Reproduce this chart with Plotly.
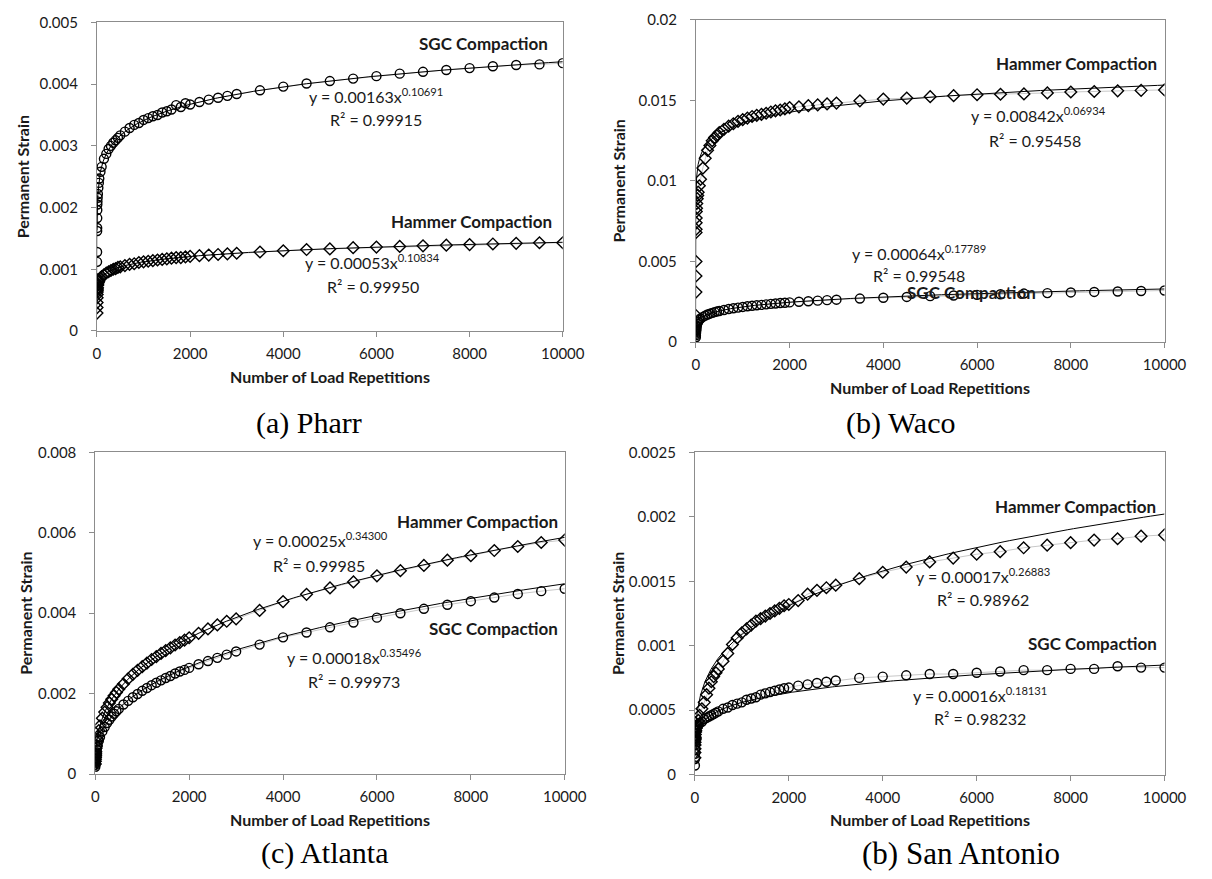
import numpy as np
import plotly.graph_objects as go

# Load repetitions at which permanent strain was recorded
load_reps = [1, 2, 3, 4, 5, 6, 7, 8, 10, 15, 20, 30, 40, 50, 75, 100,
             150, 200, 250, 300, 350, 400, 450, 500,
             600, 700, 800, 900, 1000, 1100, 1200, 1300, 1400, 1500, 1600, 1700, 1800, 1900, 2000,
             2200, 2400, 2600, 2800, 3000,
             3500, 4000, 4500, 5000, 5500, 6000, 6500, 7000, 7500, 8000, 8500, 9000, 9500, 10000]

# (a) Pharr
pharr_sgc = [0.00085, 0.00112, 0.00128, 0.00162, 0.00167, 0.00183, 0.00196, 0.00205, 0.00210, 0.00216,
             0.00222, 0.00232, 0.00240, 0.00247, 0.00258, 0.00266,
             0.00279, 0.00287, 0.00295, 0.00300, 0.00305, 0.00309, 0.00313, 0.00317,
             0.00323, 0.00329, 0.00334, 0.00337, 0.00342, 0.00345, 0.00348, 0.00350, 0.00354, 0.00356,
             0.00359, 0.00366, 0.00363, 0.00369, 0.00367,
             0.00371, 0.00375, 0.00378, 0.00381, 0.00384,
             0.00390, 0.00396, 0.00401, 0.00405, 0.00409, 0.00413, 0.00417, 0.00420, 0.00423, 0.00426,
             0.00429, 0.00431, 0.00432, 0.00434]
pharr_hammer = [0.00029, 0.00038, 0.00046, 0.00054, 0.00059, 0.00063, 0.00066, 0.00068, 0.00070, 0.00074,
                0.00076, 0.00079, 0.00081, 0.00083, 0.00086, 0.00088,
                0.00091, 0.00094, 0.00096, 0.00098, 0.00100, 0.00101, 0.00103, 0.00104,
                0.00106, 0.00108, 0.00109, 0.00111, 0.00112, 0.00113, 0.00114, 0.00115, 0.00116, 0.00117,
                0.00118, 0.00119, 0.00119, 0.00120, 0.00121,
                0.00122, 0.00123, 0.00124, 0.00125, 0.00126,
                0.00128, 0.00130, 0.00132, 0.00133, 0.00135, 0.00136, 0.00137, 0.00138, 0.00139, 0.00140,
                0.00141, 0.00142, 0.00143, 0.00143]

# (b) Waco
waco_hammer = [0.00165, 0.0031, 0.0041, 0.0050, 0.0068, 0.0070, 0.0074, 0.0077, 0.0081, 0.0083,
               0.0086, 0.0089, 0.0091, 0.0093, 0.0097, 0.0101,
               0.0108, 0.0114, 0.0119, 0.0122, 0.0125, 0.0127, 0.0128, 0.0130,
               0.0132, 0.0134, 0.01355, 0.0137, 0.0138, 0.0139, 0.0140, 0.01407, 0.01413, 0.0142,
               0.01428, 0.01435, 0.0144, 0.01447, 0.01455,
               0.0146, 0.01467, 0.01472, 0.01478, 0.01483,
               0.01497, 0.01508, 0.01514, 0.01523, 0.01529, 0.01535, 0.01538, 0.0154, 0.01546, 0.01552,
               0.01555, 0.01559, 0.01562, 0.01565]
waco_sgc = [0.00030, 0.00042, 0.00052, 0.00060, 0.00066, 0.00071, 0.00075, 0.00079, 0.00085, 0.00095,
            0.00103, 0.00114, 0.00122, 0.00128, 0.00138, 0.00146,
            0.00156, 0.00164, 0.00171, 0.00176, 0.00181, 0.00186, 0.00190, 0.00193,
            0.00199, 0.00205, 0.00210, 0.00214, 0.00218, 0.00222, 0.00225, 0.00228, 0.00231, 0.00234,
            0.00237, 0.00239, 0.00242, 0.00244, 0.00246,
            0.00250, 0.00253, 0.00257, 0.00260, 0.00263,
            0.00270, 0.00275, 0.00280, 0.00285, 0.00289, 0.00293, 0.00297, 0.00301, 0.00304, 0.00308,
            0.00311, 0.00314, 0.00317, 0.00320]

# (c) Atlanta
atlanta_hammer = [0.00025, 0.00032, 0.00037, 0.00041, 0.00045, 0.00047, 0.00050, 0.00052, 0.00056, 0.00064,
                  0.00070, 0.00080, 0.00087, 0.00094, 0.00108, 0.00120,
                  0.00139, 0.00154, 0.00166, 0.00177, 0.00186, 0.00195, 0.00203, 0.00211,
                  0.00224, 0.00237, 0.00248, 0.00258, 0.00267, 0.00276, 0.00285, 0.00292, 0.00300, 0.00307,
                  0.00314, 0.00321, 0.00327, 0.00333, 0.00339,
                  0.00350, 0.00361, 0.00371, 0.00380, 0.00386,
                  0.00407, 0.00429, 0.00447, 0.00463, 0.00478, 0.00493, 0.00506, 0.00519, 0.00532, 0.00543,
                  0.00556, 0.00566, 0.00576, 0.00582]
atlanta_sgc = [0.00018, 0.00023, 0.00027, 0.00030, 0.00032, 0.00034, 0.00036, 0.00038, 0.00041, 0.00047,
               0.00052, 0.00060, 0.00067, 0.00072, 0.00083, 0.00092,
               0.00106, 0.00117, 0.00127, 0.00135, 0.00143, 0.00150, 0.00156, 0.00162,
               0.00173, 0.00182, 0.00191, 0.00199, 0.00207, 0.00214, 0.00221, 0.00227, 0.00233, 0.00239,
               0.00244, 0.00250, 0.00255, 0.00259, 0.00264,
               0.00273, 0.00281, 0.00289, 0.00297, 0.00305,
               0.00322, 0.00340, 0.00352, 0.00365, 0.00377, 0.00389, 0.00400, 0.00411, 0.00421, 0.00430,
               0.00439, 0.00448, 0.00455, 0.00461]

# (b) San Antonio
sa_hammer = [0.00013, 0.00017, 0.00020, 0.00023, 0.00025, 0.00027, 0.00028, 0.00029, 0.00031, 0.00033,
             0.00034, 0.00036, 0.00037, 0.00038, 0.00042, 0.00046,
             0.00051, 0.00056, 0.00062, 0.00067, 0.00072, 0.00076, 0.00079, 0.00082,
             0.00088, 0.00094, 0.00101, 0.00106, 0.00110, 0.00113, 0.00116, 0.00119, 0.00121, 0.00123,
             0.00125, 0.00127, 0.00129, 0.00131, 0.00132,
             0.00135, 0.00140, 0.00143, 0.00145, 0.00147,
             0.00152, 0.00157, 0.00161, 0.00165, 0.00168, 0.00171, 0.00173, 0.00176, 0.00178, 0.00180,
             0.00182, 0.00183, 0.00185, 0.00186]
sa_sgc = [0.00007, 0.00012, 0.00016, 0.00019, 0.00023, 0.00026, 0.00028, 0.00030, 0.00032, 0.00034,
          0.00035, 0.00036, 0.00037, 0.00038, 0.00039, 0.00040,
          0.00041, 0.00043, 0.00044, 0.00045, 0.00046, 0.00047, 0.00048, 0.00049,
          0.00051, 0.00052, 0.00054, 0.00055, 0.00056, 0.00058, 0.00059, 0.00060, 0.00062, 0.00063,
          0.00064, 0.00065, 0.00066, 0.00067, 0.000675,
          0.00069, 0.00070, 0.00071, 0.00072, 0.00073,
          0.00075, 0.00076, 0.00077, 0.00078, 0.00078, 0.00079, 0.00080, 0.00081, 0.00081, 0.00082,
          0.00082, 0.00084, 0.00083, 0.00083]

# Power-law trendlines y = a * x^b with their R^2
fit_pharr_sgc = (0.00163, 0.10691, 0.99915)
fit_pharr_hammer = (0.00053, 0.10834, 0.99950)
fit_waco_hammer = (0.00842, 0.06934, 0.95458)
fit_waco_sgc = (0.00064, 0.17789, 0.99548)
fit_atlanta_hammer = (0.00025, 0.34300, 0.99985)
fit_atlanta_sgc = (0.00018, 0.35496, 0.99973)
fit_sa_hammer = (0.00017, 0.26883, 0.98962)
fit_sa_sgc = (0.00016, 0.18131, 0.98232)

# Axis ticks
x_ticks = [0, 2000, 4000, 6000, 8000, 10000]
x_tick_text = ["0", "2000", "4000", "6000", "8000", "10000"]
pharr_y_ticks = [0, 0.001, 0.002, 0.003, 0.004, 0.005]
pharr_y_text = ["0", "0.001", "0.002", "0.003", "0.004", "0.005"]
waco_y_ticks = [0, 0.005, 0.01, 0.015, 0.02]
waco_y_text = ["0", "0.005", "0.01", "0.015", "0.02"]
atlanta_y_ticks = [0, 0.002, 0.004, 0.006, 0.008]
atlanta_y_text = ["0", "0.002", "0.004", "0.006", "0.008"]
sa_y_ticks = [0, 0.0005, 0.001, 0.0015, 0.002, 0.0025]
sa_y_text = ["0", "0.0005", "0.001", "0.0015", "0.002", "0.0025"]

captions = ["(a) Pharr", "(b) Waco", "(c) Atlanta", "(b) San Antonio"]

W, H = 1212, 879
FONT = "Lato"
AXIS_GREY = "#8c8c8c"
TEXT = "#1a1a1a"


def px(x):
    return x / W


def py(y):
    return 1 - y / H


def eq_text(fit):
    a, b, _ = fit
    return f"y = {a:.5f}x<sup>{b:.5f}</sup>"


def r2_text(fit):
    return f"R² = {fit[2]:.5f}"


# Panel layout: plot-area box in pixels (left, top, right, bottom)
panels = [
    dict(ax="", box=(95, 12.7, 571, 327.7), yr=0.005, yt=pharr_y_ticks, ytt=pharr_y_text,
         series=[(pharr_sgc, "circle-open", fit_pharr_sgc), (pharr_hammer, "diamond-open", fit_pharr_hammer)],
         caption=(captions[0], 312, 422, 30), ytitle_x=19),
    dict(ax="2", box=(707, 10, 1186, 339), yr=0.02, yt=waco_y_ticks, ytt=waco_y_text,
         series=[(waco_hammer, "diamond-open", fit_waco_hammer), (waco_sgc, "circle-open", fit_waco_sgc)],
         caption=(captions[1], 916, 422, 30), ytitle_x=628),
    dict(ax="3", box=(93.3, 451.7, 573, 780), yr=0.008, yt=atlanta_y_ticks, ytt=atlanta_y_text,
         series=[(atlanta_hammer, "diamond-open", fit_atlanta_hammer), (atlanta_sgc, "circle-open", fit_atlanta_sgc)],
         caption=(captions[2], 328, 861, 30), ytitle_x=22),
    dict(ax="4", box=(706, 451.7, 1186, 780.5), yr=0.0025, yt=sa_y_ticks, ytt=sa_y_text,
         series=[(sa_hammer, "diamond-open", fit_sa_hammer), (sa_sgc, "circle-open", fit_sa_sgc)],
         caption=(captions[3], 978, 861, 31), ytitle_x=627),
]

fig = go.Figure()
layout = {}
annotations = []


def note(text, x, y, size=16, bold=False, xanchor="center", family=FONT, angle=0, color=TEXT):
    annotations.append(dict(text=f"<b>{text}</b>" if bold else text, x=px(x), y=py(y),
                            xref="paper", yref="paper", showarrow=False,
                            xanchor=xanchor, yanchor="middle", textangle=angle,
                            font=dict(family=family, size=size, color=color)))


curve_x = np.geomspace(1, 10000, 600)

for p in panels:
    xa, ya = "x" + p["ax"], "y" + p["ax"]
    l, t, r, b = p["box"]
    for values, symbol, fit in p["series"]:
        fig.add_trace(go.Scatter(
            x=load_reps, y=values, xaxis=xa, yaxis=ya, mode="lines+markers",
            line=dict(color="#c8c8c8", width=1),
            marker=dict(symbol=symbol, size=9, color="black", line=dict(width=1.4, color="black")),
            showlegend=False, hoverinfo="skip"))
        a, k, _ = fit
        fig.add_trace(go.Scatter(
            x=curve_x, y=a * curve_x ** k, xaxis=xa, yaxis=ya, mode="lines",
            line=dict(color="black", width=1), showlegend=False, hoverinfo="skip"))

    common = dict(showline=True, linecolor=AXIS_GREY, linewidth=1, mirror=True, showgrid=False,
                  zeroline=False, ticks="outside", ticklen=5, tickcolor=AXIS_GREY, tickwidth=1,
                  tickfont=dict(family=FONT, size=15, color=TEXT))
    layout["xaxis" + p["ax"]] = dict(common, domain=[px(l), px(r)], anchor=ya, range=[0, 10000],
                                     tickvals=x_ticks, ticktext=x_tick_text, ticklabelstandoff=4)
    layout["yaxis" + p["ax"]] = dict(common, domain=[py(b), py(t)], anchor=xa, range=[0, p["yr"]],
                                     tickvals=p["yt"], ticktext=p["ytt"], ticklabelstandoff=10)

    note("Number of Load Repetitions", (l + r) / 2, b + 46, bold=True)
    note("Permanent Strain", p["ytitle_x"], (t + b) / 2, bold=True, angle=-90)
    cap, capx, capy, capsize = p["caption"]
    note(cap, capx, capy, size=capsize, family="Liberation Serif", color="black")

# Series names and trendline equations
note("SGC Compaction", 558, 34, size=17, bold=True, xanchor="right")
note(eq_text(fit_pharr_sgc), 380, 87)
note(r2_text(fit_pharr_sgc), 380, 112)
note("Hammer Compaction", 562, 216, size=17, bold=True, xanchor="right")
note(eq_text(fit_pharr_hammer), 377, 257)
note(r2_text(fit_pharr_hammer), 377, 282)

note("Hammer Compaction", 1180, 55, size=17, bold=True, xanchor="right")
note(eq_text(fit_waco_hammer), 1057, 107)
note(r2_text(fit_waco_hammer), 1054, 133)
note("SGC Compaction", 1057, 288, size=17, bold=True, xanchor="right")
note(eq_text(fit_waco_sgc), 935, 248)
note(r2_text(fit_waco_sgc), 935, 271)

note("Hammer Compaction", 568, 522, size=17, bold=True, xanchor="right")
note(eq_text(fit_atlanta_hammer), 323, 541)
note(r2_text(fit_atlanta_hammer), 322, 567)
note("SGC Compaction", 568, 631, size=17, bold=True, xanchor="right")
note(eq_text(fit_atlanta_sgc), 358, 660)
note(r2_text(fit_atlanta_sgc), 358, 686)

note("Hammer Compaction", 1179, 507, size=17, bold=True, xanchor="right")
note(eq_text(fit_sa_hammer), 1000, 577)
note(r2_text(fit_sa_hammer), 1000, 602)
note("SGC Compaction", 1180, 647, size=17, bold=True, xanchor="right")
note(eq_text(fit_sa_sgc), 997, 699)
note(r2_text(fit_sa_sgc), 997, 723)

fig.update_layout(width=W, height=H, margin=dict(l=0, r=0, t=0, b=0),
                  paper_bgcolor="white", plot_bgcolor="white",
                  font=dict(family=FONT, color=TEXT), annotations=annotations, **layout)

fig.write_html("out.html")
